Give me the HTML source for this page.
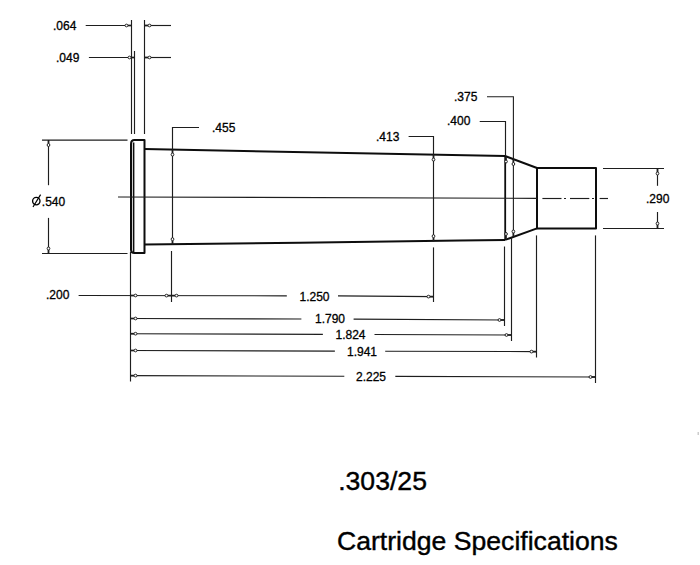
<!DOCTYPE html>
<html>
<head>
<meta charset="utf-8">
<style>
html,body{margin:0;padding:0;background:#fff;}
body{width:700px;height:565px;overflow:hidden;}
svg{display:block;}
text{font-family:"Liberation Sans",sans-serif;fill:#000;stroke:#000;}
</style>
</head>
<body>
<svg width="700" height="565" viewBox="0 0 700 565">
<rect width="700" height="565" fill="#fff"/>
<g stroke="#0d0d0d" stroke-width="2" fill="none" stroke-linejoin="round">
<path d="M144.5 140 L134.5 140 Q131 140 131 144 L131 249.5 Q131 253 134.5 253 L144.5 253 Z"/>
<line x1="133.6" y1="142.5" x2="133.6" y2="252" stroke-width="1.6"/>
<line x1="144.5" y1="149" x2="505" y2="156"/>
<polyline points="144.5,244.6 300,242.8 460,240.6 505,239.9"/>
<line x1="505.2" y1="156" x2="505.2" y2="239.9" stroke-width="1.8"/>
<line x1="505" y1="156" x2="537" y2="168"/>
<line x1="505" y1="239.9" x2="537" y2="228.4"/>
<path d="M537 168 L596 168 L596 228.4 L537 228.4 Z"/>
</g>
<line x1="118" y1="197" x2="537" y2="198.3" stroke="#1e1e1e" stroke-width="1.15"/>
<line x1="542.4" y1="198.5" x2="561.5" y2="198.5" stroke="#1e1e1e" stroke-width="1.15"/>
<line x1="564" y1="198.5" x2="566" y2="198.5" stroke="#1e1e1e" stroke-width="1.15"/>
<line x1="570" y1="198.5" x2="589.3" y2="198.5" stroke="#1e1e1e" stroke-width="1.15"/>
<line x1="592" y1="198.5" x2="594" y2="198.5" stroke="#1e1e1e" stroke-width="1.15"/>
<line x1="599.6" y1="198.5" x2="608" y2="198.5" stroke="#1e1e1e" stroke-width="1.15"/>
<line x1="131.5" y1="20" x2="131.5" y2="134" stroke="#1e1e1e" stroke-width="1.15"/>
<line x1="134.5" y1="51" x2="134.5" y2="134" stroke="#1e1e1e" stroke-width="1.15"/>
<line x1="144.5" y1="20" x2="144.5" y2="134" stroke="#1e1e1e" stroke-width="1.15"/>
<line x1="85.7" y1="25.5" x2="131.5" y2="25.5" stroke="#1e1e1e" stroke-width="1.15"/>
<line x1="144.5" y1="25.5" x2="171" y2="25.5" stroke="#1e1e1e" stroke-width="1.15"/>
<line x1="88.9" y1="57.5" x2="134.5" y2="57.5" stroke="#1e1e1e" stroke-width="1.15"/>
<line x1="144.5" y1="57.5" x2="171" y2="57.5" stroke="#1e1e1e" stroke-width="1.15"/>
<line x1="131.20" y1="25.50" x2="128.00" y2="25.50" stroke="#1e1e1e" stroke-width="1.7"/>
<ellipse cx="126.50" cy="25.50" rx="1.5" ry="1.35" transform="rotate(180.0 126.50 25.50)" fill="#fff" stroke="#1e1e1e" stroke-width="1.0"/>
<line x1="144.80" y1="25.50" x2="148.00" y2="25.50" stroke="#1e1e1e" stroke-width="1.7"/>
<ellipse cx="149.50" cy="25.50" rx="1.5" ry="1.35" transform="rotate(0.0 149.50 25.50)" fill="#fff" stroke="#1e1e1e" stroke-width="1.0"/>
<line x1="134.20" y1="57.50" x2="131.00" y2="57.50" stroke="#1e1e1e" stroke-width="1.7"/>
<ellipse cx="129.50" cy="57.50" rx="1.5" ry="1.35" transform="rotate(180.0 129.50 57.50)" fill="#fff" stroke="#1e1e1e" stroke-width="1.0"/>
<line x1="144.80" y1="57.50" x2="148.00" y2="57.50" stroke="#1e1e1e" stroke-width="1.7"/>
<ellipse cx="149.50" cy="57.50" rx="1.5" ry="1.35" transform="rotate(0.0 149.50 57.50)" fill="#fff" stroke="#1e1e1e" stroke-width="1.0"/>
<text x="53" y="30" style="font-size:12px;stroke-width:0.3px">.064</text>
<text x="56" y="61.7" style="font-size:12px;stroke-width:0.3px">.049</text>
<line x1="42" y1="140.2" x2="127.5" y2="140.2" stroke="#1e1e1e" stroke-width="1.3"/>
<line x1="42" y1="253.5" x2="127.5" y2="253.5" stroke="#1e1e1e" stroke-width="1.15"/>
<line x1="48.5" y1="140" x2="48.5" y2="185.2" stroke="#1e1e1e" stroke-width="1.15"/>
<line x1="48.5" y1="217.9" x2="48.5" y2="253.5" stroke="#1e1e1e" stroke-width="1.15"/>
<line x1="48.50" y1="140.30" x2="48.50" y2="143.50" stroke="#1e1e1e" stroke-width="1.7"/>
<ellipse cx="48.50" cy="145.00" rx="1.5" ry="1.35" transform="rotate(90.0 48.50 145.00)" fill="#fff" stroke="#1e1e1e" stroke-width="1.0"/>
<line x1="48.50" y1="253.20" x2="48.50" y2="250.00" stroke="#1e1e1e" stroke-width="1.7"/>
<ellipse cx="48.50" cy="248.50" rx="1.5" ry="1.35" transform="rotate(-90.0 48.50 248.50)" fill="#fff" stroke="#1e1e1e" stroke-width="1.0"/>
<circle cx="36.3" cy="201.1" r="3.7" fill="none" stroke="#000" stroke-width="1.35"/>
<line x1="33" y1="207" x2="40.6" y2="194.6" stroke="#000" stroke-width="1.2"/>
<text x="41.8" y="206.4" style="font-size:12px;stroke-width:0.3px">.540</text>
<polyline points="199,127.5 172.5,127.5 172.5,244.6" stroke="#1e1e1e" stroke-width="1.15" fill="none"/>
<line x1="171.5" y1="251" x2="171.5" y2="302" stroke="#1e1e1e" stroke-width="1.15"/>
<line x1="172.50" y1="149.90" x2="172.50" y2="153.10" stroke="#1e1e1e" stroke-width="1.7"/>
<ellipse cx="172.50" cy="154.60" rx="1.5" ry="1.35" transform="rotate(90.0 172.50 154.60)" fill="#fff" stroke="#1e1e1e" stroke-width="1.0"/>
<line x1="172.50" y1="243.90" x2="172.50" y2="240.70" stroke="#1e1e1e" stroke-width="1.7"/>
<ellipse cx="172.50" cy="239.20" rx="1.5" ry="1.35" transform="rotate(-90.0 172.50 239.20)" fill="#fff" stroke="#1e1e1e" stroke-width="1.0"/>
<text x="212" y="131.9" style="font-size:12px;stroke-width:0.3px">.455</text>
<polyline points="408.6,136.5 433.5,136.5 433.5,241.5" stroke="#1e1e1e" stroke-width="1.15" fill="none"/>
<line x1="433.5" y1="247.4" x2="433.5" y2="302" stroke="#1e1e1e" stroke-width="1.15"/>
<line x1="433.50" y1="154.90" x2="433.50" y2="158.10" stroke="#1e1e1e" stroke-width="1.7"/>
<ellipse cx="433.50" cy="159.60" rx="1.5" ry="1.35" transform="rotate(90.0 433.50 159.60)" fill="#fff" stroke="#1e1e1e" stroke-width="1.0"/>
<line x1="433.50" y1="240.90" x2="433.50" y2="237.70" stroke="#1e1e1e" stroke-width="1.7"/>
<ellipse cx="433.50" cy="236.20" rx="1.5" ry="1.35" transform="rotate(-90.0 433.50 236.20)" fill="#fff" stroke="#1e1e1e" stroke-width="1.0"/>
<text x="376" y="140.7" style="font-size:12px;stroke-width:0.3px">.413</text>
<polyline points="479.7,121.5 505.5,121.5 505.5,156" stroke="#1e1e1e" stroke-width="1.15" fill="none"/>
<polyline points="487,96.8 513.4,96.8 513.4,236.5" stroke="#1e1e1e" stroke-width="1.1" fill="none"/>
<line x1="504.5" y1="246.5" x2="504.5" y2="326" stroke="#1e1e1e" stroke-width="1.15"/>
<line x1="511.5" y1="237.5" x2="511.5" y2="341" stroke="#1e1e1e" stroke-width="1.15"/>
<line x1="536.5" y1="235.4" x2="536.5" y2="357.5" stroke="#1e1e1e" stroke-width="1.15"/>
<line x1="595.5" y1="235.4" x2="595.5" y2="383" stroke="#1e1e1e" stroke-width="1.15"/>
<line x1="506.00" y1="156.80" x2="506.00" y2="160.00" stroke="#1e1e1e" stroke-width="1.7"/>
<ellipse cx="506.00" cy="161.50" rx="1.5" ry="1.35" transform="rotate(90.0 506.00 161.50)" fill="#fff" stroke="#1e1e1e" stroke-width="1.0"/>
<line x1="506.00" y1="238.70" x2="506.00" y2="235.50" stroke="#1e1e1e" stroke-width="1.7"/>
<ellipse cx="506.00" cy="234.00" rx="1.5" ry="1.35" transform="rotate(-90.0 506.00 234.00)" fill="#fff" stroke="#1e1e1e" stroke-width="1.0"/>
<line x1="513.40" y1="159.30" x2="513.40" y2="162.50" stroke="#1e1e1e" stroke-width="1.7"/>
<ellipse cx="513.40" cy="164.00" rx="1.5" ry="1.35" transform="rotate(90.0 513.40 164.00)" fill="#fff" stroke="#1e1e1e" stroke-width="1.0"/>
<line x1="513.40" y1="236.20" x2="513.40" y2="233.00" stroke="#1e1e1e" stroke-width="1.7"/>
<ellipse cx="513.40" cy="231.50" rx="1.5" ry="1.35" transform="rotate(-90.0 513.40 231.50)" fill="#fff" stroke="#1e1e1e" stroke-width="1.0"/>
<text x="454" y="100.7" style="font-size:12px;stroke-width:0.3px">.375</text>
<text x="447" y="125.4" style="font-size:12px;stroke-width:0.3px">.400</text>
<line x1="603" y1="168.5" x2="664" y2="168.5" stroke="#1e1e1e" stroke-width="1.15"/>
<line x1="603" y1="228.5" x2="664" y2="228.5" stroke="#1e1e1e" stroke-width="1.15"/>
<line x1="657.5" y1="168.5" x2="657.5" y2="185.8" stroke="#1e1e1e" stroke-width="1.15"/>
<line x1="657.5" y1="212" x2="657.5" y2="228.5" stroke="#1e1e1e" stroke-width="1.15"/>
<line x1="657.50" y1="168.80" x2="657.50" y2="172.00" stroke="#1e1e1e" stroke-width="1.7"/>
<ellipse cx="657.50" cy="173.50" rx="1.5" ry="1.35" transform="rotate(90.0 657.50 173.50)" fill="#fff" stroke="#1e1e1e" stroke-width="1.0"/>
<line x1="657.50" y1="228.20" x2="657.50" y2="225.00" stroke="#1e1e1e" stroke-width="1.7"/>
<ellipse cx="657.50" cy="223.50" rx="1.5" ry="1.35" transform="rotate(-90.0 657.50 223.50)" fill="#fff" stroke="#1e1e1e" stroke-width="1.0"/>
<text x="646" y="202.9" style="font-size:12px;stroke-width:0.3px">.290</text>
<line x1="130.5" y1="252" x2="130.5" y2="381.5" stroke="#1e1e1e" stroke-width="1.15"/>
<line x1="78.6" y1="295.5" x2="286.8" y2="295.8" stroke="#1e1e1e" stroke-width="1.15"/>
<line x1="338" y1="295.9" x2="433.5" y2="296.6" stroke="#1e1e1e" stroke-width="1.15"/>
<line x1="130.5" y1="318.5" x2="301.4" y2="319" stroke="#1e1e1e" stroke-width="1.15"/>
<line x1="353.6" y1="319.1" x2="504.5" y2="320" stroke="#1e1e1e" stroke-width="1.15"/>
<line x1="130.5" y1="333.7" x2="322.9" y2="334.4" stroke="#1e1e1e" stroke-width="1.15"/>
<line x1="374.5" y1="334.5" x2="511.5" y2="335" stroke="#1e1e1e" stroke-width="1.15"/>
<line x1="130.5" y1="350.5" x2="334.9" y2="351.1" stroke="#1e1e1e" stroke-width="1.15"/>
<line x1="385.2" y1="351.2" x2="536.5" y2="351.6" stroke="#1e1e1e" stroke-width="1.15"/>
<line x1="130.5" y1="375.6" x2="344.3" y2="376.3" stroke="#1e1e1e" stroke-width="1.15"/>
<line x1="395.3" y1="376.4" x2="595.5" y2="377" stroke="#1e1e1e" stroke-width="1.15"/>
<line x1="130.80" y1="295.50" x2="134.00" y2="295.50" stroke="#1e1e1e" stroke-width="1.7"/>
<ellipse cx="135.50" cy="295.50" rx="1.5" ry="1.35" transform="rotate(0.0 135.50 295.50)" fill="#fff" stroke="#1e1e1e" stroke-width="1.0"/>
<line x1="171.20" y1="295.60" x2="168.00" y2="295.60" stroke="#1e1e1e" stroke-width="1.7"/>
<ellipse cx="166.50" cy="295.60" rx="1.5" ry="1.35" transform="rotate(180.0 166.50 295.60)" fill="#fff" stroke="#1e1e1e" stroke-width="1.0"/>
<line x1="171.80" y1="295.60" x2="175.00" y2="295.60" stroke="#1e1e1e" stroke-width="1.7"/>
<ellipse cx="176.50" cy="295.60" rx="1.5" ry="1.35" transform="rotate(0.0 176.50 295.60)" fill="#fff" stroke="#1e1e1e" stroke-width="1.0"/>
<line x1="433.20" y1="296.60" x2="430.00" y2="296.60" stroke="#1e1e1e" stroke-width="1.7"/>
<ellipse cx="428.50" cy="296.60" rx="1.5" ry="1.35" transform="rotate(180.0 428.50 296.60)" fill="#fff" stroke="#1e1e1e" stroke-width="1.0"/>
<line x1="130.80" y1="318.50" x2="134.00" y2="318.50" stroke="#1e1e1e" stroke-width="1.7"/>
<ellipse cx="135.50" cy="318.50" rx="1.5" ry="1.35" transform="rotate(0.0 135.50 318.50)" fill="#fff" stroke="#1e1e1e" stroke-width="1.0"/>
<line x1="504.20" y1="320.00" x2="501.00" y2="320.00" stroke="#1e1e1e" stroke-width="1.7"/>
<ellipse cx="499.50" cy="320.00" rx="1.5" ry="1.35" transform="rotate(180.0 499.50 320.00)" fill="#fff" stroke="#1e1e1e" stroke-width="1.0"/>
<line x1="130.80" y1="333.70" x2="134.00" y2="333.70" stroke="#1e1e1e" stroke-width="1.7"/>
<ellipse cx="135.50" cy="333.70" rx="1.5" ry="1.35" transform="rotate(0.0 135.50 333.70)" fill="#fff" stroke="#1e1e1e" stroke-width="1.0"/>
<line x1="511.20" y1="335.00" x2="508.00" y2="335.00" stroke="#1e1e1e" stroke-width="1.7"/>
<ellipse cx="506.50" cy="335.00" rx="1.5" ry="1.35" transform="rotate(180.0 506.50 335.00)" fill="#fff" stroke="#1e1e1e" stroke-width="1.0"/>
<line x1="130.80" y1="350.50" x2="134.00" y2="350.50" stroke="#1e1e1e" stroke-width="1.7"/>
<ellipse cx="135.50" cy="350.50" rx="1.5" ry="1.35" transform="rotate(0.0 135.50 350.50)" fill="#fff" stroke="#1e1e1e" stroke-width="1.0"/>
<line x1="536.20" y1="351.60" x2="533.00" y2="351.60" stroke="#1e1e1e" stroke-width="1.7"/>
<ellipse cx="531.50" cy="351.60" rx="1.5" ry="1.35" transform="rotate(180.0 531.50 351.60)" fill="#fff" stroke="#1e1e1e" stroke-width="1.0"/>
<line x1="130.80" y1="375.60" x2="134.00" y2="375.60" stroke="#1e1e1e" stroke-width="1.7"/>
<ellipse cx="135.50" cy="375.60" rx="1.5" ry="1.35" transform="rotate(0.0 135.50 375.60)" fill="#fff" stroke="#1e1e1e" stroke-width="1.0"/>
<line x1="595.20" y1="377.00" x2="592.00" y2="377.00" stroke="#1e1e1e" stroke-width="1.7"/>
<ellipse cx="590.50" cy="377.00" rx="1.5" ry="1.35" transform="rotate(180.0 590.50 377.00)" fill="#fff" stroke="#1e1e1e" stroke-width="1.0"/>
<text x="46" y="299.2" style="font-size:12px;stroke-width:0.3px">.200</text>
<text x="299.5" y="300.5" style="font-size:12px;stroke-width:0.3px">1.250</text>
<text x="315" y="323.2" style="font-size:12px;stroke-width:0.3px">1.790</text>
<text x="335.5" y="338.8" style="font-size:12px;stroke-width:0.3px">1.824</text>
<text x="347" y="355.6" style="font-size:12px;stroke-width:0.3px">1.941</text>
<text x="356" y="380.9" style="font-size:12px;stroke-width:0.3px">2.225</text>
<text x="338.2" y="490.0" style="font-size:26.6px;stroke-width:0.4px">.303/25</text>
<text x="337" y="550.2" style="font-size:26.6px;stroke-width:0.4px">Cartridge Specifications</text>
<rect x="697.5" y="432" width="1.5" height="3" fill="#ccc"/>
</svg>
</body>
</html>
